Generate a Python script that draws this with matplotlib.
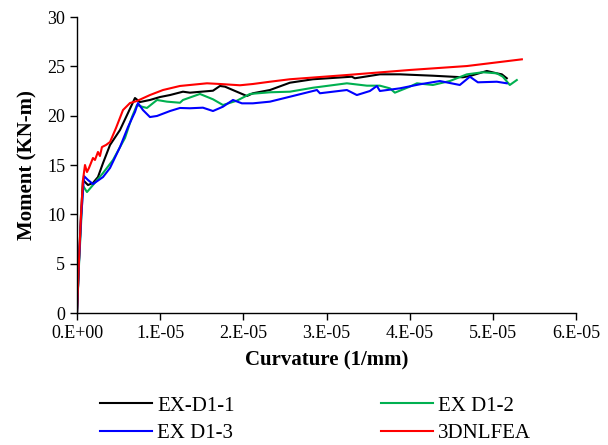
import matplotlib
matplotlib.use('Agg')
import matplotlib.pyplot as plt

plt.rcParams['font.family'] = ['Liberation Serif', 'DejaVu Serif']

# curvature values are in units of 1e-6 1/mm, moment in KN-m
scale = 1e-6

ex1_x = [0, 0.24, 0.48, 0.72, 1.32, 1.92, 2.52, 3.13, 3.97, 5.17, 6.13, 6.97, 7.57, 8.77,
         9.98, 11.18, 12.74, 13.58, 16.35, 17.19, 17.79, 20.43, 21.15, 23.20, 25.60, 28.37,
         33.05, 33.41, 36.42, 38.82, 42.79, 46.39, 47.24, 49.28, 50.48, 51.08, 51.68]
ex1_y = [0, 5.37, 9.93, 13.48, 12.97, 13.18, 13.78, 15.20, 17.03, 18.55, 20.27, 21.79, 21.38, 21.59,
         21.89, 22.09, 22.43, 22.33, 22.53, 23.01, 22.94, 21.99, 22.27, 22.60, 23.34, 23.69,
         23.95, 23.79, 24.19, 24.19, 24.05, 23.89, 24.02, 24.53, 24.29, 24.19, 23.79]

ex2_x = [0, 0.24, 0.48, 0.72, 1.20, 1.92, 3.13, 4.33, 5.77, 6.61, 7.21, 7.81, 8.41, 9.62,
         10.82, 12.38, 12.74, 14.78, 16.35, 17.55, 19.23, 20.79, 23.20, 25.60, 28.37, 32.45,
         34.86, 36.42, 37.62, 38.22, 40.02, 40.87, 42.79, 44.83, 46.88, 48.80, 50.48, 51.20,
         52.04, 52.88]
ex2_y = [0, 4.86, 8.92, 12.9, 12.26, 12.97, 14.19, 15.51, 17.74, 19.86, 21.08, 20.91, 20.78, 21.59,
         21.42, 21.31, 21.59, 22.20, 21.66, 21.08, 21.52, 22.20, 22.37, 22.43, 22.83, 23.28,
         23.04, 23.04, 22.77, 22.33, 22.94, 23.28, 23.11, 23.51, 24.19, 24.40, 24.29, 23.95,
         23.11, 23.61]

ex3_x = [0, 0.24, 0.48, 0.84, 1.32, 1.92, 3.13, 3.97, 5.17, 6.13, 6.97, 7.33, 7.93, 8.77,
         9.62, 11.18, 12.38, 13.58, 15.14, 16.35, 17.55, 18.75, 19.83, 21.15, 23.20, 25.60,
         28.85, 29.21, 32.45, 33.65, 35.22, 36.06, 36.42, 38.82, 41.23, 43.63, 46.03, 47.24,
         48.20, 50.48, 51.68]
ex3_y = [0, 5.17, 9.43, 13.88, 13.48, 13.07, 13.78, 14.70, 16.82, 18.85, 20.37, 21.28, 20.57, 19.86,
         19.97, 20.47, 20.78, 20.75, 20.81, 20.47, 20.91, 21.59, 21.25, 21.25, 21.42, 21.92,
         22.60, 22.27, 22.60, 22.09, 22.50, 23.01, 22.50, 22.77, 23.18, 23.51, 23.11, 23.95,
         23.38, 23.44, 23.28]

fea_x = [0, 0.24, 0.48, 0.72, 0.96, 1.20, 1.44, 1.92, 2.16, 2.52, 2.76, 3.00, 3.49, 3.97,
         4.69, 5.53, 6.37, 7.21, 8.77, 10.34, 12.38, 15.63, 17.19, 19.59, 21.15, 23.20, 25.60,
         32.45, 40.02, 46.88, 53.49]
fea_y = [0, 5.37, 9.93, 13.48, 15.00, 14.29, 14.70, 15.71, 15.51, 16.32, 15.91, 16.82, 17.03, 17.33,
         18.75, 20.57, 21.28, 21.49, 22.09, 22.60, 23.01, 23.28, 23.21, 23.08, 23.21, 23.44, 23.69,
         24.12, 24.63, 25.03, 25.71]

x_ticks = [0, 1e-5, 2e-5, 3e-5, 4e-5, 5e-5, 6e-5]
x_tick_labels = ['0.E+00', '1.E-05', '2.E-05', '3.E-05', '4.E-05', '5.E-05', '6.E-05']
y_ticks = [0, 5, 10, 15, 20, 25, 30]

fig = plt.figure(figsize=(6.08, 4.45), dpi=100)
ax = fig.add_axes([77 / 608, 1 - 313 / 445, (576 - 77) / 608, (313 - 17) / 445])

l1, = ax.plot([v * scale for v in ex1_x], ex1_y, color='black', lw=1.5, label='EX-D1-1')
l2, = ax.plot([v * scale for v in ex2_x], ex2_y, color='#00B050', lw=1.5, label='EX D1-2')
l3, = ax.plot([v * scale for v in ex3_x], ex3_y, color='#0000FF', lw=1.5, label='EX D1-3')
l4, = ax.plot([v * scale for v in fea_x], fea_y, color='#FF0000', lw=1.5, label='3DNLFEA')

ax.set_xlim(0, 6e-5)
ax.set_ylim(0, 30)
ax.set_xticks(x_ticks)
ax.set_xticklabels(x_tick_labels)
ax.set_yticks(y_ticks)
ax.tick_params(labelsize=13, direction='out', length=5, width=1, colors='black')
for side in ['top', 'right']:
    ax.spines[side].set_visible(False)
for side in ['left', 'bottom']:
    ax.spines[side].set_linewidth(1)

ax.set_xlabel('Curvature (1/mm)', fontsize=15, fontweight='bold', labelpad=6)
ax.set_ylabel('Moment (KN-m)', fontsize=15, fontweight='bold', labelpad=7)

fig.legend([l1, l3, l2, l4], ['EX-D1-1', 'EX D1-3', 'EX D1-2', '3DNLFEA'],
           ncol=2, loc='upper left', bbox_to_anchor=(100 / 608, 1 - 396 / 445),
           frameon=False, fontsize=15, handlelength=2.5, handletextpad=0.25,
           columnspacing=7.0, labelspacing=0.4, borderpad=0, borderaxespad=0)

fig.savefig('out.png', dpi=100)
